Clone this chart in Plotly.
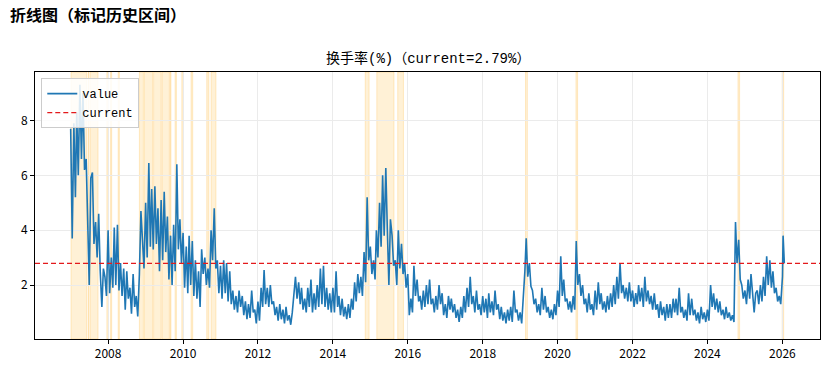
import datetime as dt
import plotly.graph_objects as go

# ---- data (two per month) ----
v2007 = [7.7,3.7, 7.9,5.2, 8.3,6.0, 9.3,6.6, 9.0,6.2, 6.6,4.3, 2.0,5.9, 6.1,3.5, 4.3,3.0, 4.6,2.5, 1.2,2.6, 2.3,1.6]
v2008 = [4.0,1.7, 3.0,1.9, 4.1,2.0, 4.2,1.8, 2.8,1.6, 2.6,1.1, 2.5,1.5, 1.9,0.95, 2.4,1.2, 1.6,0.85, 2.4,4.7, 3.5,2.6]
v2009 = [5.0,3.0, 6.45,3.4, 5.5,3.3, 5.6,3.5, 4.8,2.5, 5.1,2.9, 5.4,3.2, 4.5,2.2, 3.8,2.0, 4.2,2.5, 6.4,3.3, 4.4,2.8]
v2010 = [3.9,1.9, 3.4,1.7, 3.8,2.0, 3.6,1.6, 2.9,1.5, 2.5,1.2, 3.3,2.4, 3.0,2.0, 2.6,1.9, 4.0,2.9, 4.8,2.6, 2.9,1.7]
v2011 = [2.7,1.5, 2.9,1.7, 2.8,1.4, 2.5,1.3, 1.8,1.1, 1.6,1.0, 1.8,1.2, 1.6,0.9, 1.4,0.75, 1.3,0.8, 1.8,1.0, 1.1,0.6]
v2012 = [1.4,0.7, 1.9,1.2, 2.55,1.3, 1.9,1.2, 2.0,1.3, 1.4,0.9, 1.2,0.7, 1.3,0.75, 1.1,0.6, 1.2,0.7, 0.9,0.55, 1.0,1.6]
v2013 = [2.3,1.5, 2.1,1.3, 1.9,1.1, 1.5,1.0, 1.9,1.2, 2.2,1.0, 1.7,1.1, 2.0,1.2, 2.6,1.3, 2.7,1.2, 1.9,1.1, 1.7,1.0]
v2014 = [1.9,1.0, 2.5,1.2, 1.6,0.9, 1.5,0.85, 1.2,0.75, 1.3,0.8, 1.5,1.1, 2.1,1.4, 2.4,1.7, 2.3,1.6, 3.2,2.1, 5.2,2.9]
v2015 = [3.4,2.4, 2.9,2.2, 4.0,3.0, 5.0,3.4, 6.0,3.8, 6.27,4.0, 2.0,4.4, 3.8,2.7, 2.9,2.0, 4.0,2.6, 3.5,2.4, 2.8,1.9]
v2016 = [2.4,0.9, 1.5,1.0, 2.7,1.6, 2.2,1.4, 1.6,1.1, 1.8,1.2, 2.0,1.3, 2.2,1.3, 1.5,1.0, 1.6,1.1, 2.0,1.3, 1.7,0.9]
v2017 = [1.3,0.8, 1.6,1.1, 1.5,1.0, 1.3,0.8, 1.1,0.65, 1.2,0.8, 1.6,1.0, 1.9,1.2, 2.3,1.3, 1.6,1.0, 1.8,1.1, 1.3,0.9]
v2018 = [1.6,1.0, 1.5,0.8, 1.7,1.0, 1.4,0.9, 1.8,1.1, 1.3,0.75, 1.2,0.7, 1.0,0.6, 1.1,0.7, 1.2,0.65, 1.8,1.0, 1.1,0.7]
v2019 = [1.0,0.6, 1.4,2.5, 3.7,2.3, 2.8,1.95, 1.8,1.3, 1.5,1.0, 1.3,0.9, 1.9,1.1, 1.6,1.0, 1.2,0.8, 1.1,0.75, 1.3,0.9]
v2020 = [1.8,1.2, 3.05,1.6, 2.2,1.4, 1.5,1.1, 1.4,1.0, 1.6,1.1, 3.6,2.0, 2.4,1.6, 2.0,1.3, 1.5,1.0, 1.7,1.1, 1.3,0.9]
v2021 = [1.8,1.1, 2.1,1.3, 1.7,1.1, 1.4,1.0, 1.6,1.1, 1.7,1.2, 2.0,1.3, 2.3,1.5, 2.8,1.7, 2.0,1.5, 1.9,1.4, 2.1,1.4]
v2022 = [1.8,1.2, 1.7,1.3, 2.0,1.4, 1.9,1.2, 2.3,1.4, 1.8,1.3, 1.6,1.1, 1.7,1.1, 1.3,0.8, 1.4,0.9, 1.2,0.7, 1.3,0.8]
v2023 = [1.3,0.8, 1.5,1.0, 1.5,0.9, 1.9,1.0, 1.2,0.8, 1.1,0.7, 1.7,0.9, 1.5,0.9, 1.1,0.7, 1.0,0.6, 1.2,0.75, 1.0,0.65]
v2024 = [1.1,0.7, 2.0,1.2, 1.7,1.1, 1.5,1.0, 1.4,0.9, 1.1,0.75, 1.2,0.8, 1.0,0.7, 0.9,0.65, 4.3,2.8, 3.65,2.2, 2.0,1.5]
v2025 = [1.8,1.3, 2.2,1.5, 2.4,1.6, 1.0,1.7, 1.8,1.3, 2.0,1.4, 2.3,1.6, 3.05,2.0, 2.9,1.9, 2.5,1.7, 1.9,1.4, 1.6,1.3]
v2026 = [2.3, 3.8, 3.1, 2.79]
d2026 = ["2026-01-02", "2026-01-08", "2026-01-14", "2026-01-20"]

current = 2.79

# highlighted historical intervals
spans = [
    ("2007-01-04", "2007-06-05"), ("2007-06-20", "2007-06-28"), ("2007-07-10", "2007-09-25"),
    ("2007-12-20", "2008-01-05"), ("2008-01-25", "2008-02-05"), ("2008-04-08", "2008-04-20"),
    ("2008-11-01", "2008-12-10"), ("2008-12-20", "2009-03-10"), ("2009-03-20", "2009-06-01"),
    ("2009-06-10", "2009-08-20"), ("2009-08-28", "2009-09-05"),
    ("2009-10-15", "2009-10-28"), ("2009-12-20", "2010-01-05"), ("2010-03-20", "2010-04-05"),
    ("2010-08-20", "2010-09-10"), ("2010-10-01", "2010-11-18"),
    ("2014-11-12", "2014-12-20"), ("2015-03-05", "2015-08-20"), ("2015-09-25", "2015-11-20"),
    ("2019-02-22", "2019-03-12"), ("2020-06-28", "2020-07-14"),
    ("2024-10-25", "2024-11-10"), ("2025-12-30", "2026-01-14"),
]

years = [v2007, v2008, v2009, v2010, v2011, v2012, v2013, v2014, v2015, v2016,
         v2017, v2018, v2019, v2020, v2021, v2022, v2023, v2024, v2025]

dates, values = [], []
for i, yv in enumerate(years):
    yr = 2007 + i
    for k, v in enumerate(yv):
        dates.append(dt.datetime(yr, k // 2 + 1, 1 if k % 2 == 0 else 16))
        values.append(v)
for d, v in zip(d2026, v2026):
    dates.append(dt.datetime.fromisoformat(d))
    values.append(v)

span_t = dates[-1] - dates[0]
xmin = dates[0] - span_t * 0.05
xmax = dates[-1] + span_t * 0.05

fig = go.Figure()
for a, b in spans:
    fig.add_shape(type="rect", xref="x", yref="paper", x0=a, x1=b, y0=0, y1=1,
                  fillcolor="rgba(255,165,0,0.16)", line=dict(color="rgba(255,165,0,0.25)", width=0.8),
                  layer="below")

fig.add_trace(go.Scatter(x=dates, y=values, mode="lines", name="value",
                         line=dict(color="#1f77b4", width=1.6)))
fig.add_trace(go.Scatter(x=[xmin, xmax], y=[current, current], mode="lines", name="current",
                         line=dict(color="#e31a1c", width=1.3, dash="5px,3px")))

mono = "Liberation Mono, Noto Sans CJK SC"
W, H = 815, 354  # page body adds an 8px margin around the figure
fig.update_layout(
    width=W, height=H,
    margin=dict(l=27, r=3, t=64, b=23, autoexpand=False),
    paper_bgcolor="white", plot_bgcolor="white",
    font=dict(family="Noto Sans CJK SC", size=12, color="black"),
    title=dict(text="<b>折线图（标记历史区间）</b>", x=2 / W, xanchor="left",
               y=1 - 2 / H, yanchor="top",
               font=dict(family="Noto Sans CJK SC", size=16, color="black")),
    showlegend=True,
    legend=dict(x=0.008, y=0.977, xanchor="left", yanchor="top",
                bgcolor="rgba(255,255,255,0.85)", bordercolor="#cccccc", borderwidth=1,
                font=dict(family=mono, size=12), tracegroupgap=0),
    annotations=[dict(text="换手率(%)（current=2.79%）", xref="paper", yref="paper",
                      x=0.5, y=1, yshift=14, xanchor="center", yanchor="middle",
                      showarrow=False, font=dict(family=mono, size=14, color="black"))],
)
fig.update_xaxes(type="date", range=[xmin, xmax], tick0="2008-01-01", dtick="M24",
                 tickformat="%Y", showline=True, linecolor="black", linewidth=1, mirror=True,
                 ticks="outside", ticklen=4, tickcolor="black", automargin=False,
                 tickfont=dict(family="Noto Sans CJK SC", size=12),
                 showgrid=True, gridcolor="#ebebeb", gridwidth=1, zeroline=False)
fig.update_yaxes(range=[0.03, 9.77], tickvals=[2, 4, 6, 8], showline=True, linecolor="black",
                 linewidth=1, mirror=True, ticks="outside", ticklen=4, tickcolor="black",
                 automargin=False, tickfont=dict(family="Noto Sans CJK SC", size=12),
                 showgrid=True, gridcolor="#ebebeb", gridwidth=1, zeroline=False)

fig.write_html("out.html")
